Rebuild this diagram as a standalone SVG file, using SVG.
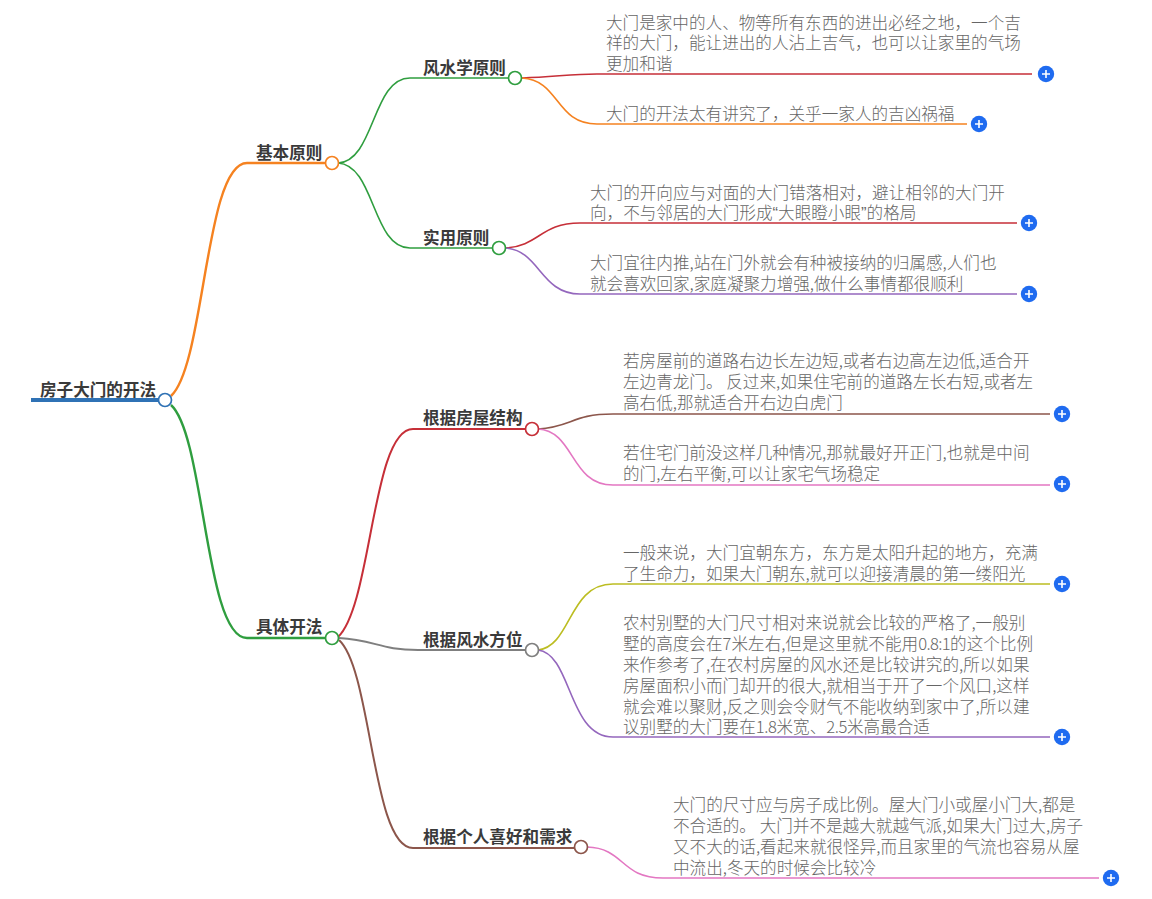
<svg xmlns="http://www.w3.org/2000/svg" width="1152" height="899" viewBox="0 0 1152 899">
<style>
text{font-family:"Noto Sans CJK SC","Liberation Sans",sans-serif;font-size:16.6px}
.t{fill:#666;font-weight:300}
.b{fill:#3a3a3a;font-weight:700}
.c{fill:none;stroke-width:1.6}
.m{stroke-width:2}
.k{stroke-width:2.4}
.n{fill:#fff;stroke-width:1.7}
.p{fill:#1f6bf0}
.x{stroke:#fff;stroke-width:1.6;fill:none}
.q{font-family:"Liberation Sans",sans-serif}
.gr{stroke:#2f9e3f}.or{stroke:#f58220}.pu{stroke:#9467bd}.br{stroke:#8c564b}.pk{stroke:#e377c2}.gy{stroke:#7f7f7f}.ol{stroke:#bcbd22}.dr{stroke:#c62f38}
</style>
<defs>
<g id="plus"><circle r="8.2" class="p"/><path d="M-4 0H4M0-4V4" class="x"/></g>
</defs>
<rect width="1152" height="899" fill="#fff"/>
<g id="connectors">
<path d="M31 400H158" fill="none" stroke="#2f72b5" stroke-width="4"/>
<path class="c k or" d="M171 396C205 365 205 163 247 163H325"/>
<path class="c k gr" d="M171 405C205 436 205 638 247 638H325"/>
<path class="c gr" d="M338 163C375 161 372 78 410 78H508"/>
<path class="c gr" d="M338 163C375 165 372 248 410 248H492"/>
<path class="c m dr" d="M338 637C372 605 372 429 413 429H525"/>
<path class="c m gy" d="M339 638C375 640 380 650 418 650H525"/>
<path class="c m br" d="M339 640C372 670 372 848 413 848H575"/>
<path class="c dr" d="M522 78C555 77 570 74 597 74H1032"/>
<path class="c or" d="M522 78C560 80 555 124 597 124H967"/>
<path class="c dr" d="M505 248C540 246 540 223 580 223H1017"/>
<path class="c pu" d="M505 248C540 250 540 294 580 294H1017"/>
<path class="c br" d="M538 429C572 427 572 414 613 414H1050"/>
<path class="c pk" d="M538 429C575 431 570 485 613 485H1050"/>
<path class="c ol" d="M538 650C572 646 568 584 613 584H1050"/>
<path class="c pu" d="M538 650C572 654 568 737 613 737H1050"/>
<path class="c pk" d="M587 847C625 848 620 878 663 878H1099"/>
</g>
<g id="root"><text class="b" x="40" y="396">房子大门的开法</text><circle class="n" cx="165" cy="400" r="6.5" stroke="#2f72b5"/></g>
<g id="n-basic"><text class="b" x="256" y="159">基本原则</text><circle class="n or" cx="332" cy="163" r="6.5"/></g>
<g id="n-specific"><text class="b" x="256" y="633">具体开法</text><circle class="n gr" cx="332" cy="638" r="6.5"/></g>
<g id="n-fengshui"><text class="b" x="423" y="74">风水学原则</text><circle class="n gr" cx="515" cy="78" r="6.5"/></g>
<g id="n-practical"><text class="b" x="423" y="244">实用原则</text><circle class="n gr" cx="499" cy="248" r="6.5"/></g>
<g id="n-structure"><text class="b" x="423" y="424">根据房屋结构</text><circle class="n dr" cx="532" cy="429" r="6.5"/></g>
<g id="n-direction"><text class="b" x="423" y="646">根据风水方位</text><circle class="n gy" cx="532" cy="650" r="6.5"/></g>
<g id="n-personal"><text class="b" x="423" y="843">根据个人喜好和需求</text><circle class="n br" cx="581" cy="847" r="6.5"/></g>
<g id="leaf1"><text class="t"><tspan x="606" y="29">大门是家中的人、物等所有东西的进出必经之地，一个吉</tspan><tspan x="606" y="49">祥的大门，能让进出的人沾上吉气，也可以让家里的气场</tspan><tspan x="606" y="70">更加和谐</tspan></text><use href="#plus" x="1046" y="74"/></g>
<g id="leaf2"><text class="t" x="606" y="120">大门的开法太有讲究了，关乎一家人的吉凶祸福</text><use href="#plus" x="979" y="124"/></g>
<g id="leaf3"><text class="t"><tspan x="590" y="199">大门的开向应与对面的大门错落相对，避让相邻的大门开</tspan><tspan x="590" y="219">向，不与邻居的大门形成<tspan class="q">“</tspan>大眼瞪小眼<tspan class="q">”</tspan>的格局</tspan></text><use href="#plus" x="1029" y="223"/></g>
<g id="leaf4"><text class="t"><tspan x="590" y="269">大门宜往内推,站在门外就会有种被接纳的归属感,人们也</tspan><tspan x="590" y="290">就会喜欢回家,家庭凝聚力增强,做什么事情都很顺利</tspan></text><use href="#plus" x="1029" y="294"/></g>
<g id="leaf5"><text class="t"><tspan x="623" y="367">若房屋前的道路右边长左边短,或者右边高左边低,适合开</tspan><tspan x="623" y="388">左边青龙门。 反过来,如果住宅前的道路左长右短,或者左</tspan><tspan x="623" y="409">高右低,那就适合开右边白虎门</tspan></text><use href="#plus" x="1062" y="414"/></g>
<g id="leaf6"><text class="t"><tspan x="623" y="459">若住宅门前没这样几种情况,那就最好开正门,也就是中间</tspan><tspan x="623" y="480">的门,左右平衡,可以让家宅气场稳定</tspan></text><use href="#plus" x="1062" y="484"/></g>
<g id="leaf7"><text class="t"><tspan x="623" y="559">一般来说，大门宜朝东方，东方是太阳升起的地方，充满</tspan><tspan x="623" y="580">了生命力，如果大门朝东,就可以迎接清晨的第一缕阳光</tspan></text><use href="#plus" x="1062" y="584"/></g>
<g id="leaf8"><text class="t"><tspan x="623" y="629">农村别墅的大门尺寸相对来说就会比较的严格了,一般别</tspan><tspan x="623" y="650">墅的高度会在7米左右,但是这里就不能用<tspan letter-spacing="-0.6">0.8:1</tspan>的这个比例</tspan><tspan x="623" y="671">来作参考了,在农村房屋的风水还是比较讲究的,所以如果</tspan><tspan x="623" y="692">房屋面积小而门却开的很大,就相当于开了一个风口,这样</tspan><tspan x="623" y="713">就会难以聚财,反之则会令财气不能收纳到家中了,所以建</tspan><tspan x="623" y="733">议别墅的大门要在<tspan letter-spacing="-0.4">1.8</tspan>米宽、<tspan letter-spacing="-0.4">2.5</tspan>米高最合适</tspan></text><use href="#plus" x="1062" y="737"/></g>
<g id="leaf9"><text class="t"><tspan x="673" y="811">大门的尺寸应与房子成比例。屋大门小或屋小门大,都是</tspan><tspan x="673" y="832">不合适的。 大门并不是越大就越气派,如果大门过大,房子</tspan><tspan x="673" y="853">又不大的话,看起来就很怪异,而且家里的气流也容易从屋</tspan><tspan x="673" y="874">中流出,冬天的时候会比较冷</tspan></text><use href="#plus" x="1111" y="878"/></g>
</svg>
